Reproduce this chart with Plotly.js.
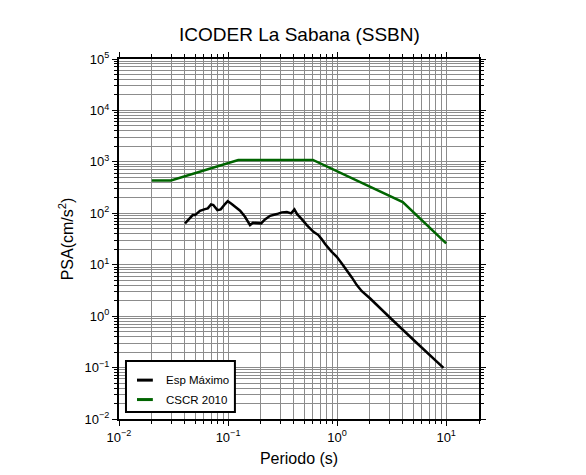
<!DOCTYPE html>
<html>
<head>
<meta charset="utf-8">
<script src="https://cdn.plot.ly/plotly-3.0.1.min.js"></script>
<style>html,body{margin:0;padding:0;background:#fff;}#chart{width:586px;height:475px;}</style>
</head>
<body>
<div id="chart"></div>
<script>
// Esp Máximo (black)
const espPeriod = [0.0403, 0.0432, 0.0474, 0.0498, 0.0553, 0.0615, 0.0652, 0.0698, 0.0733, 0.0798, 0.0857, 0.0938, 0.0993, 0.108, 0.120, 0.129, 0.143, 0.159, 0.169, 0.190, 0.201, 0.218, 0.243, 0.280, 0.311, 0.346, 0.379, 0.406, 0.430, 0.474, 0.527, 0.607, 0.673, 0.724, 0.776, 0.893, 0.993, 1.104, 1.227, 1.364, 1.516, 1.685, 2.01, 2.57, 3.06, 5.38, 9.45];
const espPSA = [63.7, 73.8, 92.3, 92.3, 111.9, 120.7, 124.5, 149, 144.5, 115.3, 119, 151, 172.7, 151, 124.5, 112, 85.5, 58.9, 65.3, 65.3, 63.7, 76.1, 89.4, 96.5, 104.2, 105.5, 99.5, 119, 96, 77.1, 58.9, 43.6, 37.7, 31.1, 25.2, 17.8, 14.3, 10.6, 7.85, 5.66, 4.01, 3.05, 2.2, 1.36, 0.93, 0.30, 0.0987];
// CSCR 2010 (green)
const cscrPeriod = [0.02, 0.03, 0.124, 0.6, 4.0, 10.0];
const cscrPSA = [436, 436, 1090, 1090, 165, 26];

const seriesNames = ['Esp Máximo', 'CSCR 2010'];
const seriesColors = ['#000000', 'rgb(0,100,0)'];

const xTickVals = [0.01, 0.1, 1, 10];
const xTickText = ['10<sup>−2</sup>', '10<sup>−1</sup>', '10<sup>0</sup>', '10<sup>1</sup>'];
const yTickVals = [0.01, 0.1, 1, 10, 100, 1000, 10000, 100000];
const yTickText = ['10<sup>−2</sup>', '10<sup>−1</sup>', '10<sup>0</sup>', '10<sup>1</sup>', '10<sup>2</sup>', '10<sup>3</sup>', '10<sup>4</sup>', '10<sup>5</sup>'];

function minorVals(k0, k1, maxV) {
  const out = [];
  for (let k = k0; k <= k1; k++) {
    for (let d = 2; d <= 9; d++) {
      const v = d * Math.pow(10, k);
      if (v <= maxV * 1.0001) out.push(v);
    }
  }
  return out;
}

const font = '"Liberation Sans", Arial, Helvetica, sans-serif';

const traces = [
  {x: espPeriod, y: espPSA, type: 'scatter', mode: 'lines', name: seriesNames[0],
   line: {color: seriesColors[0], width: 2.5}},
  {x: cscrPeriod, y: cscrPSA, type: 'scatter', mode: 'lines', name: seriesNames[1],
   line: {color: seriesColors[1], width: 2.5}}
];

const axisCommon = {
  type: 'log', showline: true, linecolor: '#000', linewidth: 2, mirror: 'allticks',
  ticks: 'outside', ticklen: 5, tickwidth: 1, tickcolor: '#000',
  showgrid: true, gridcolor: '#8c8c8c', gridwidth: 1, zeroline: false,
  tickfont: {family: font, size: 13, color: '#000'}, tickmode: 'array'
};

// custom legend (box, short line samples, labels) in paper coordinates
const legBox = {x0: 0.0194, x1: 0.322, y0: 0.0194, y1: 0.161};
const legRowsY = [0.108, 0.054];
const shapes = [
  {type: 'rect', xref: 'paper', yref: 'paper', x0: legBox.x0, x1: legBox.x1, y0: legBox.y0, y1: legBox.y1,
   fillcolor: '#fff', line: {color: '#000', width: 2}, layer: 'above'}
];
const annotations = [];
seriesNames.forEach((nm, i) => {
  shapes.push({type: 'line', xref: 'paper', yref: 'paper', x0: 0.05, x1: 0.094, y0: legRowsY[i], y1: legRowsY[i],
               line: {color: seriesColors[i], width: 3}, layer: 'above'});
  annotations.push({xref: 'paper', yref: 'paper', x: 0.125, y: legRowsY[i], xanchor: 'left', yanchor: 'middle',
                    text: nm, showarrow: false, font: {family: font, size: 11.5, color: '#000'}});
});

const layout = {
  width: 586, height: 475,
  margin: {l: 119, r: 107, t: 59, b: 56, pad: 0},
  paper_bgcolor: '#fff', plot_bgcolor: '#fff',
  title: {text: 'ICODER La Sabana (SSBN)', font: {family: font, size: 19, color: '#000'},
          x: 0.511, xanchor: 'center', y: 0.927, yanchor: 'middle'},
  xaxis: Object.assign({}, axisCommon, {
    range: [-2, Math.log10(20)], tickvals: xTickVals, ticktext: xTickText,
    minor: {tickmode: 'array', tickvals: minorVals(-2, 1, 20), ticks: 'outside', ticklen: 3,
            tickcolor: '#000', showgrid: true, gridcolor: '#8c8c8c', gridwidth: 1},
    title: {text: 'Periodo (s)', font: {family: font, size: 16, color: '#000'}, standoff: 9}
  }),
  yaxis: Object.assign({}, axisCommon, {
    range: [-2, 5], tickvals: yTickVals, ticktext: yTickText,
    minor: {tickmode: 'array', tickvals: minorVals(-2, 4, 1e5), ticks: 'outside', ticklen: 3,
            tickcolor: '#000', showgrid: true, gridcolor: '#8c8c8c', gridwidth: 1},
    title: {text: 'PSA(cm/s<sup>2</sup>)', font: {family: font, size: 16, color: '#000'}, standoff: 7}
  }),
  showlegend: false,
  shapes: shapes,
  annotations: annotations
};

Plotly.newPlot('chart', traces, layout, {displayModeBar: false, staticPlot: true});
</script>
</body>
</html>
